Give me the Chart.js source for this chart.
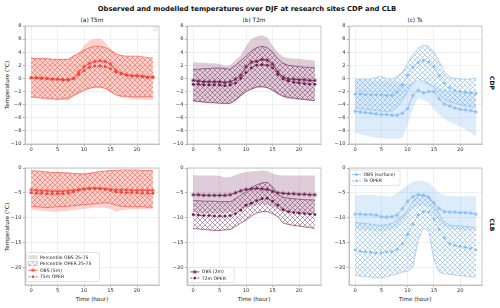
<!DOCTYPE html>
<html>
<head>
<meta charset="utf-8">
<script src="https://cdn.jsdelivr.net/npm/chart.js@4.4.1/dist/chart.umd.min.js"></script>
<style>
body { margin: 0; background: #fff; }
#wrap { position: relative; width: 500px; height: 308px; overflow: hidden; font-family: "DejaVu Sans", sans-serif; color: #111; }
canvas { position: absolute; left: 0; top: 0; }
.t { position: absolute; white-space: nowrap; transform: translate(-50%, -50%); }
</style>
</head>
<body>
<div id="wrap">
  <div class="t" style="left:247px;top:9px;font-size:6.8px;font-weight:bold">Observed and modelled temperatures over DJF at research sites CDP and CLB</div>
  <div class="t" style="left:92px;top:20px;font-size:5.8px">(a) T5m</div>
  <div class="t" style="left:254px;top:20px;font-size:5.8px">(b) T2m</div>
  <div class="t" style="left:415px;top:20px;font-size:5.8px">(c) Ts</div>
  <div class="t" style="left:7px;top:85px;font-size:5.6px;transform:translate(-50%,-50%) rotate(-90deg)">Temperature (°C)</div>
  <div class="t" style="left:7px;top:227px;font-size:5.6px;transform:translate(-50%,-50%) rotate(-90deg)">Temperature (°C)</div>
  <div class="t" style="left:92px;top:299px;font-size:5.6px">Time (hour)</div>
  <div class="t" style="left:254px;top:299px;font-size:5.6px">Time (hour)</div>
  <div class="t" style="left:415px;top:299px;font-size:5.6px">Time (hour)</div>
  <div class="t" style="left:492px;top:83px;font-size:6px;font-weight:bold;transform:translate(-50%,-50%) rotate(90deg)">CDP</div>
  <div class="t" style="left:492px;top:225px;font-size:6px;font-weight:bold;transform:translate(-50%,-50%) rotate(90deg)">CLB</div>
</div>
<script>
var hours = [0,1,2,3,4,5,6,7,8,9,10,11,12,13,14,15,16,17,18,19,20,21,22,23];
var xTicks = [0,5,10,15,20];
var cdpYTicks = [-10,-8,-6,-4,-2,0,2,4,6,8];
var clbYTicks = [-20,-15,-10,-5,0];

// CDP, T5m
var cdpT5mObs    = [0.1,0.1,0.1,0.0,-0.1,-0.1,-0.2,-0.2,0.0,1.0,1.8,2.3,2.6,2.7,2.6,2.2,1.3,0.8,0.6,0.4,0.4,0.3,0.2,0.2];
var cdpT5mOper   = [0.1,0.1,0.0,0.0,-0.1,-0.1,-0.2,-0.2,0.0,0.6,1.2,1.7,1.9,1.9,1.8,1.5,1.0,0.7,0.5,0.4,0.4,0.3,0.2,0.2];
var cdpT5mObs75  = [3.1,3.1,3.2,3.1,3.0,3.0,3.0,3.0,3.5,4.0,5.0,5.8,6.0,6.1,5.5,4.5,3.8,3.5,3.4,3.4,3.3,3.2,3.1,3.0];
var cdpT5mObs25  = [-3.0,-3.0,-3.1,-3.2,-3.2,-3.2,-3.3,-3.4,-2.8,-2.3,-1.8,-1.6,-1.5,-1.5,-1.6,-2.0,-2.5,-2.9,-3.0,-3.1,-3.2,-3.2,-3.3,-3.3];
var cdpT5mOper75 = [3.1,3.0,3.0,3.0,2.9,2.9,2.9,2.9,3.4,3.8,4.3,4.7,4.9,4.9,4.7,4.3,3.8,3.5,3.4,3.4,3.4,3.3,3.2,3.1];
var cdpT5mOper25 = [-2.8,-2.9,-3.0,-3.0,-3.1,-3.2,-3.1,-3.0,-2.6,-2.2,-1.8,-1.5,-1.3,-1.3,-1.5,-2.0,-2.5,-2.7,-2.7,-2.8,-2.8,-2.8,-2.8,-2.8];

// CDP, T2m
var cdpT2mObs    = [-0.3,-0.4,-0.5,-0.5,-0.5,-0.5,-0.6,-0.5,-0.1,0.5,1.8,2.5,2.6,2.9,2.8,2.2,1.0,0.2,-0.1,-0.1,-0.2,-0.2,-0.3,-0.3];
var cdpT2mOper   = [-0.9,-0.9,-1.0,-1.0,-1.0,-1.0,-1.1,-1.0,-0.7,0.0,0.9,1.6,2.0,2.1,2.0,1.6,0.6,-0.1,-0.4,-0.6,-0.7,-0.8,-0.9,-0.9];
var cdpT2mObs75  = [2.5,2.4,2.4,2.3,2.3,2.2,1.9,2.0,2.8,3.5,5.0,6.0,6.4,6.6,6.3,5.0,4.0,3.3,3.1,3.0,3.0,2.9,2.8,2.7];
var cdpT2mObs25  = [-3.6,-3.6,-3.7,-3.7,-3.8,-3.8,-3.9,-3.9,-3.5,-2.8,-2.1,-1.7,-1.5,-1.4,-1.5,-1.9,-2.5,-2.9,-3.1,-3.2,-3.3,-3.3,-3.4,-3.4];
var cdpT2mOper75 = [1.4,1.4,1.5,1.5,1.6,1.6,1.5,1.4,2.0,2.7,3.4,4.2,4.7,4.9,4.7,4.0,3.0,2.3,2.0,1.9,1.8,1.7,1.7,1.6];
var cdpT2mOper25 = [-3.4,-3.5,-3.6,-3.7,-3.7,-3.8,-3.8,-3.8,-3.3,-2.6,-2.0,-1.6,-1.3,-1.25,-1.4,-1.8,-2.3,-2.7,-2.9,-3.0,-3.1,-3.2,-3.3,-3.4];

// CDP, Ts
var cdpTsObs    = [-5.0,-5.1,-5.2,-5.3,-5.4,-5.5,-5.5,-5.6,-5.6,-5.3,-4.6,-2.6,-1.8,-2.2,-2.0,-2.0,-3.1,-3.9,-4.2,-4.5,-4.7,-4.8,-4.9,-5.1];
var cdpTsOper   = [-2.4,-2.4,-2.5,-2.5,-2.5,-2.5,-2.6,-2.6,-2.1,-1.0,0.5,1.7,2.4,2.7,2.5,1.8,0.4,-0.7,-1.4,-1.8,-2.0,-2.1,-2.2,-2.3];
var cdpTsObs75  = [-0.2,-0.2,-0.2,-0.3,-0.3,-0.3,-0.3,-0.3,-0.4,-0.6,-0.8,-0.6,-0.4,-0.4,-0.6,-1.0,-1.4,-1.6,-1.8,-1.9,-2.0,-2.1,-2.2,-2.3];
var cdpTsObs25  = [-8.3,-8.5,-8.7,-8.9,-9.0,-9.1,-9.2,-9.2,-9.2,-9.1,-7.1,-4.5,-3.0,-3.3,-3.7,-4.7,-5.5,-6.2,-6.7,-7.0,-7.3,-7.8,-8.3,-8.8];
var cdpTsOper75 = [-0.15,-0.1,-0.1,-0.1,0.2,0.3,0.0,-0.1,0.3,1.0,2.3,3.6,4.6,5.1,4.9,4.0,2.6,1.0,0.2,0.0,-0.1,-0.1,-0.1,0.1];
var cdpTsOper25 = [-4.5,-4.6,-4.7,-4.8,-4.9,-5.0,-5.0,-5.0,-4.4,-3.4,-1.9,-0.8,-0.2,-0.4,-0.9,-1.4,-2.4,-3.2,-3.6,-3.8,-4.0,-4.2,-4.3,-4.4];

// CLB, T5m
var clbT5mObs    = [-4.4,-4.5,-4.6,-4.6,-4.7,-4.7,-4.7,-4.6,-4.5,-4.3,-4.2,-4.1,-4.1,-4.1,-4.2,-4.3,-4.4,-4.4,-4.4,-4.5,-4.5,-4.5,-4.5,-4.5];
var clbT5mOper   = [-5.0,-5.1,-5.1,-5.2,-5.2,-5.2,-5.2,-5.1,-4.8,-4.5,-4.3,-4.2,-4.1,-4.2,-4.3,-4.5,-4.8,-4.9,-5.0,-5.0,-5.0,-5.1,-5.1,-5.1];
var clbT5mObs75  = [-0.6,-0.6,-0.7,-0.7,-0.8,-0.8,-0.8,-0.9,-1.0,-1.0,-1.0,-0.9,-0.8,-0.7,-0.6,-0.5,-0.5,-0.5,-0.5,-0.5,-0.5,-0.5,-0.5,-0.5];
var clbT5mObs25  = [-8.3,-8.5,-8.6,-8.7,-8.8,-8.8,-8.7,-8.6,-8.5,-8.3,-8.2,-8.1,-8.0,-8.0,-8.0,-8.2,-8.8,-8.5,-8.4,-8.3,-8.3,-8.3,-8.3,-8.3];
var clbT5mOper75 = [-0.5,-0.6,-0.7,-0.8,-0.9,-0.9,-1.0,-1.0,-1.1,-1.2,-1.2,-1.1,-0.9,-0.7,-0.6,-0.5,-0.5,-0.4,-0.4,-0.4,-0.4,-0.5,-0.5,-0.5];
var clbT5mOper25 = [-7.7,-7.8,-7.9,-8.0,-7.9,-7.8,-7.8,-7.7,-7.6,-7.5,-7.4,-7.3,-7.2,-7.1,-7.0,-7.1,-7.5,-7.7,-7.8,-7.8,-7.8,-7.8,-7.9,-7.9];

// CLB, T2m
var clbT2mObs    = [-5.4,-5.4,-5.5,-5.5,-5.5,-5.5,-5.5,-5.4,-5.0,-4.6,-4.3,-4.2,-4.1,-4.2,-4.3,-4.7,-5.0,-5.1,-5.2,-5.2,-5.3,-5.3,-5.4,-5.4];
var clbT2mOper   = [-9.4,-9.5,-9.6,-9.6,-9.7,-9.7,-9.7,-9.6,-9.2,-8.5,-7.5,-7.1,-6.6,-6.2,-6.1,-6.7,-7.5,-8.4,-8.8,-9.0,-9.1,-9.2,-9.3,-9.4];
var clbT2mObs75  = [-1.4,-1.5,-1.5,-1.5,-1.5,-1.55,-1.9,-1.8,-1.4,-1.0,-0.8,-0.7,-0.6,-0.5,-0.6,-1.1,-1.4,-1.5,-1.5,-1.5,-1.5,-1.5,-1.5,-1.5];
var clbT2mObs25  = [-9.0,-9.1,-9.1,-9.2,-9.2,-9.2,-9.1,-9.0,-8.8,-8.5,-8.0,-7.7,-7.5,-7.3,-7.4,-7.8,-8.3,-8.8,-9.0,-9.1,-9.2,-9.2,-9.3,-9.3];
var clbT2mOper75 = [-6.6,-6.6,-6.7,-6.7,-6.7,-6.8,-6.8,-6.8,-6.2,-5.5,-4.8,-4.0,-3.4,-3.0,-2.9,-3.8,-5.4,-5.9,-6.1,-6.2,-6.3,-6.4,-6.4,-6.5];
var clbT2mOper25 = [-12.2,-12.3,-12.4,-12.5,-12.6,-12.6,-12.5,-12.4,-11.8,-11.1,-10.5,-9.7,-9.1,-8.8,-8.8,-9.2,-9.8,-11.1,-11.4,-11.6,-11.7,-11.9,-12.0,-12.2];

// CLB, Ts
var clbTsObs    = [-9.3,-9.3,-9.4,-9.4,-9.5,-9.8,-9.9,-9.8,-9.5,-8.2,-6.7,-5.8,-5.3,-5.5,-5.9,-7.0,-8.2,-8.8,-8.9,-8.9,-9.0,-9.0,-9.1,-9.3];
var clbTsOper   = [-16.5,-16.8,-16.9,-17.0,-17.1,-17.1,-16.9,-16.9,-16.4,-15.3,-13.4,-11.3,-9.5,-8.8,-8.9,-10.3,-12.4,-14.1,-15.3,-15.6,-15.8,-16.0,-16.2,-16.5];
var clbTsObs75  = [-5.5,-5.5,-5.4,-5.4,-5.5,-5.6,-5.7,-5.8,-5.0,-4.2,-3.5,-2.8,-2.5,-2.6,-3.0,-4.0,-5.0,-5.5,-5.6,-5.7,-5.7,-5.7,-5.7,-5.7];
var clbTsObs25  = [-12.3,-12.4,-12.5,-12.6,-12.7,-12.8,-12.6,-12.4,-12.0,-10.8,-9.5,-8.2,-7.6,-7.5,-8.0,-9.4,-11.0,-12.0,-12.3,-12.4,-12.5,-12.5,-12.5,-12.6];
var clbTsOper75 = [-11.0,-11.1,-11.2,-11.3,-11.5,-11.6,-11.4,-11.2,-10.4,-9.6,-8.6,-6.7,-5.6,-5.35,-5.7,-7.3,-9.3,-10.9,-11.5,-11.6,-11.7,-11.8,-11.9,-12.0];
var clbTsOper25 = [-21.6,-21.8,-21.9,-22.0,-22.1,-22.2,-21.9,-21.7,-21.3,-21.0,-20.8,-20.0,-14.5,-12.1,-12.6,-18.5,-21.0,-21.3,-21.5,-21.6,-21.7,-21.8,-21.9,-22.0];

Chart.defaults.font.family = '"DejaVu Sans", sans-serif';

function makeStar(color, r) {
  var s = Math.ceil(r * 2) + 2;
  var c = document.createElement('canvas');
  c.width = s; c.height = s;
  var g = c.getContext('2d');
  g.fillStyle = color;
  g.beginPath();
  for (var i = 0; i < 10; i++) {
    var a = -Math.PI / 2 + i * Math.PI / 5;
    var rr = i % 2 ? r * 0.42 : r;
    g.lineTo(s / 2 + rr * Math.cos(a), s / 2 + rr * Math.sin(a));
  }
  g.closePath();
  g.fill();
  return c;
}

function makeHatch(color, bg) {
  var s = 5;
  var c = document.createElement('canvas');
  c.width = s; c.height = s;
  var g = c.getContext('2d');
  if (bg) { g.fillStyle = bg; g.fillRect(0, 0, s, s); }
  g.strokeStyle = color;
  g.lineWidth = 0.6;
  g.beginPath();
  g.moveTo(-1, -1); g.lineTo(s + 1, s + 1);
  g.moveTo(-1, s + 1); g.lineTo(s + 1, -1);
  g.stroke();
  return g.createPattern(c, 'repeat');
}

var frame = {
  id: 'frame',
  afterDraw: function(chart) {
    var a = chart.chartArea, g = chart.ctx;
    g.save();
    g.strokeStyle = '#b8b8b8';
    g.lineWidth = 0.8;
    g.strokeRect(a.left, a.top, a.right - a.left, a.bottom - a.top);
    g.restore();
  }
};

var inlegend = {
  id: 'inlegend',
  afterDraw: function(chart, args, o) {
    if (!o || !o.items) return;
    var g = chart.ctx;
    var h = o.items.length * o.rowH + 3;
    g.save();
    g.fillStyle = 'rgba(255,255,255,0.8)';
    g.strokeStyle = '#d0d0d0';
    g.lineWidth = 0.6;
    g.beginPath();
    g.roundRect(o.x, o.y, o.w, h, 1.5);
    g.fill(); g.stroke();
    g.font = o.font + 'px "DejaVu Sans"';
    g.textBaseline = 'middle';
    o.items.forEach(function(it, i) {
      var cy = o.y + 1.5 + o.rowH * (i + 0.5);
      var hx = o.x + 2, hw = 9;
      if (it.kind === 'fill') {
        g.fillStyle = '#dedede';
        g.fillRect(hx, cy - 2, hw, 4);
      } else if (it.kind === 'hatch') {
        g.fillStyle = makeHatch('#aaaaaa', '#ffffff');
        g.fillRect(hx, cy - 2, hw, 4);
        g.strokeStyle = '#aaaaaa'; g.lineWidth = 0.5;
        g.strokeRect(hx, cy - 2, hw, 4);
      } else {
        g.strokeStyle = it.color; g.lineWidth = 0.8;
        g.setLineDash(it.kind === 'dot' ? [2, 1.5] : []);
        g.beginPath(); g.moveTo(hx, cy); g.lineTo(hx + hw, cy); g.stroke();
        g.setLineDash([]);
        if (it.kind === 'star') {
          var st = makeStar(it.color, 2.4);
          g.drawImage(st, hx + hw / 2 - st.width / 2, cy - st.height / 2);
        } else {
          g.fillStyle = it.color;
          g.beginPath(); g.arc(hx + hw / 2, cy, 1.3, 0, Math.PI * 2); g.fill();
        }
      }
      g.fillStyle = '#222';
      g.fillText(it.label, hx + hw + 2.5, cy + 0.3);
    });
    g.restore();
  }
};

var red = '#ee4538', purple = '#6b1d4f', blue = '#82bcf0';

var panels = [
  { L: 25, T: 26, W: 134, H: 118, ymin: -10, ymax: 8, yTicks: cdpYTicks, color: red,
    fill: 'rgba(246,106,90,0.3)', hatch: 'rgba(238,69,56,0.75)',
    obs: cdpT5mObs, oper: cdpT5mOper, obs75: cdpT5mObs75, obs25: cdpT5mObs25, oper75: cdpT5mOper75, oper25: cdpT5mOper25,
    legend: { x: 153.5, y: 27.5, w: 4, rowH: 0, font: 5, items: [] } },
  { L: 187, T: 26, W: 134, H: 118, ymin: -10, ymax: 8, yTicks: cdpYTicks, color: purple,
    fill: 'rgba(107,29,79,0.22)', hatch: 'rgba(107,29,79,0.7)',
    obs: cdpT2mObs, oper: cdpT2mOper, obs75: cdpT2mObs75, obs25: cdpT2mObs25, oper75: cdpT2mOper75, oper25: cdpT2mOper25 },
  { L: 349, T: 26, W: 133, H: 118, ymin: -10, ymax: 8, yTicks: cdpYTicks, color: blue,
    fill: 'rgba(120,180,240,0.25)', hatch: 'rgba(120,175,235,0.9)',
    obs: cdpTsObs, oper: cdpTsOper, obs75: cdpTsObs75, obs25: cdpTsObs25, oper75: cdpTsOper75, oper25: cdpTsOper25 },
  { L: 25, T: 168, W: 134, H: 117, ymin: -23.6, ymax: 0, yTicks: clbYTicks, color: red,
    fill: 'rgba(246,106,90,0.3)', hatch: 'rgba(238,69,56,0.75)',
    obs: clbT5mObs, oper: clbT5mOper, obs75: clbT5mObs75, obs25: clbT5mObs25, oper75: clbT5mOper75, oper25: clbT5mOper25,
    legend: { x: 26.5, y: 252.5, w: 73, rowH: 6.5, font: 4.6, items: [
      { kind: 'fill', label: 'Percentile OBS 25-75' },
      { kind: 'hatch', label: 'Percentile OPER 25-75' },
      { kind: 'star', color: red, label: 'OBS (5m)' },
      { kind: 'dot', color: red, label: 'T5m OPER' }] } },
  { L: 187, T: 168, W: 134, H: 117, ymin: -23.6, ymax: 0, yTicks: clbYTicks, color: purple,
    fill: 'rgba(107,29,79,0.22)', hatch: 'rgba(107,29,79,0.7)',
    obs: clbT2mObs, oper: clbT2mOper, obs75: clbT2mObs75, obs25: clbT2mObs25, oper75: clbT2mOper75, oper25: clbT2mOper25,
    legend: { x: 188.3, y: 267.3, w: 46, rowH: 6.2, font: 4.6, items: [
      { kind: 'star', color: purple, label: 'OBS (2m)' },
      { kind: 'dot', color: purple, label: 'T2m OPER' }] } },
  { L: 349, T: 168, W: 133, H: 117, ymin: -23.6, ymax: 0, yTicks: clbYTicks, color: blue,
    fill: 'rgba(120,180,240,0.25)', hatch: 'rgba(120,175,235,0.9)',
    obs: clbTsObs, oper: clbTsOper, obs75: clbTsObs75, obs25: clbTsObs25, oper75: clbTsOper75, oper25: clbTsOper25,
    legend: { x: 350, y: 170, w: 50, rowH: 6.2, font: 4.6, items: [
      { kind: 'star', color: blue, label: 'OBS (surface)' },
      { kind: 'dot', color: blue, label: 'Ts OPER' }] } }
];

function pts(arr) {
  return hours.map(function(h, i) { return { x: h, y: arr[i] }; });
}

var wrap = document.getElementById('wrap');
panels.forEach(function(p) {
  var cv = document.createElement('canvas');
  cv.width = 500; cv.height = 308;
  wrap.appendChild(cv);
  var tickFmt = function(v) { return String(v).replace('-', '\u2212'); };
  new Chart(cv.getContext('2d'), {
    type: 'line',
    data: {
      datasets: [
        { data: pts(p.obs), borderColor: p.color, borderWidth: 0.8, pointStyle: makeStar(p.color, 2.5), pointRadius: 2.5, fill: false },
        { data: pts(p.oper), borderColor: p.color, borderWidth: 0.8, borderDash: [2, 1.5], pointStyle: 'circle', pointRadius: 1.4,
          pointBackgroundColor: p.color, pointBorderWidth: 0, fill: false },
        { data: pts(p.oper75), borderColor: p.color, borderWidth: 0.6, pointRadius: 0, fill: '+1', backgroundColor: makeHatch(p.hatch) },
        { data: pts(p.oper25), borderColor: p.color, borderWidth: 0.6, pointRadius: 0, fill: false },
        { data: pts(p.obs75), borderColor: 'transparent', borderWidth: 0, pointRadius: 0, fill: '+1', backgroundColor: p.fill },
        { data: pts(p.obs25), borderColor: 'transparent', borderWidth: 0, pointRadius: 0, fill: false }
      ]
    },
    options: {
      responsive: false,
      animation: false,
      devicePixelRatio: 1,
      events: [],
      layout: { padding: { left: p.L - 20, top: p.T, right: 500 - p.L - p.W, bottom: 308 - p.T - p.H - 12 } },
      plugins: { legend: { display: false }, tooltip: { enabled: false }, inlegend: p.legend || {} },
      scales: {
        x: {
          type: 'linear', min: -1.15, max: 24.15,
          afterBuildTicks: function(s) { s.ticks = xTicks.map(function(v) { return { value: v }; }); },
          afterFit: function(s) { s.height = 12; },
          grid: { color: '#e6e6e6', lineWidth: 0.6, tickLength: 2, tickColor: '#777' },
          border: { color: '#b8b8b8', width: 0.8 },
          ticks: { font: { size: 5.2 }, color: '#333', padding: 1, maxRotation: 0, autoSkip: false, callback: tickFmt }
        },
        y: {
          min: p.ymin, max: p.ymax,
          afterBuildTicks: function(s) { s.ticks = p.yTicks.map(function(v) { return { value: v }; }); },
          afterFit: function(s) { s.width = 20; },
          grid: { color: '#e6e6e6', lineWidth: 0.6, tickLength: 2, tickColor: '#777' },
          border: { color: '#b8b8b8', width: 0.8 },
          ticks: { font: { size: 5.2 }, color: '#333', padding: 1.5, autoSkip: false, callback: tickFmt }
        }
      }
    },
    plugins: [frame, inlegend]
  });
});
</script>
</body>
</html>
